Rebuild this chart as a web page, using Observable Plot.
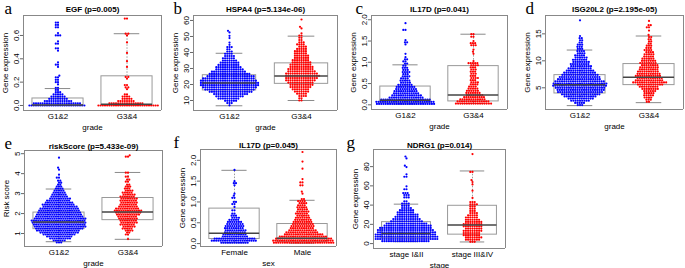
<!DOCTYPE html>
<html><head><meta charset="utf-8">
<script src="https://cdn.jsdelivr.net/npm/d3@7"></script>
<script src="https://cdn.jsdelivr.net/npm/@observablehq/plot@0.6"></script>
<style>
body{margin:0;background:#fff;}
#fig{position:relative;width:685px;height:268px;overflow:hidden;background:#fff;}
#fig svg{position:absolute;overflow:visible;}
</style></head><body><div id="fig"></div>
<script>
// ---- categories ----
const gradeGroups = ["G1&2", "G3&4"];
const sexGroups = ["Female", "Male"];
const stageGroups = ["stage I&II", "stage III&IV"];

const egfLow = [[0,26],[0.019,22],[0.038,13],[0.057,9],[0.076,7],[0.095,5],[0.114,3],[0.133,2],[0.152,2],[0.18,1],[0.2,2],[0.22,2],[0.24,2],[0.255,1],[0.33,1],[0.35,2],[0.37,1],[0.47,1],[0.49,2],[0.53,2],[0.55,1],[0.6,3],[0.62,1],[0.67,2],[0.69,2],[0.71,2]];
const egfHigh = [[0,28],[0.019,16],[0.038,8],[0.057,5],[0.076,4],[0.095,2],[0.14,1],[0.155,2],[0.175,2],[0.23,1],[0.245,2],[0.33,1],[0.38,1],[0.45,1],[0.54,1],[0.6,1],[0.615,2],[0.745,2]];
const hspa4Low = [[7.0,1],[8.4,3],[9.8,6],[11.2,10],[12.6,13],[14.0,16],[15.4,20],[16.8,23],[18.2,25],[19.6,27],[21.0,27],[22.4,26],[23.8,24],[25.2,22],[26.6,19],[28.0,16],[29.4,13],[30.8,12],[32.2,10],[33.6,9],[35.0,7],[36.4,6],[37.8,5],[39.2,4],[40.6,3],[42.0,2],[43.4,3],[44.8,1],[46.2,1],[49.0,1],[50.4,1],[52.5,1],[53.5,1]];
const hspa4High = [[10.0,2],[11.4,2],[12.8,4],[14.2,5],[15.6,7],[17.0,8],[18.4,10],[19.8,11],[21.2,12],[22.6,14],[24.0,15],[25.4,16],[26.8,15],[28.2,13],[29.6,12],[31.0,11],[32.4,10],[33.8,9],[35.2,8],[36.6,7],[38.0,7],[39.4,6],[40.8,6],[42.2,5],[43.6,4],[45.0,4],[46.4,3],[47.8,2],[49.2,2],[50.6,2],[52.0,1],[55.0,1],[56.0,1],[60.6,1]];
const il17dGradeLow = [[0.02,27],[0.07,27],[0.12,23],[0.17,16],[0.22,14],[0.27,12],[0.32,11],[0.37,10],[0.42,9],[0.47,7],[0.52,5],[0.57,5],[0.62,4],[0.67,4],[0.72,3],[0.77,4],[0.82,3],[0.87,3],[0.92,2],[0.97,2],[1.02,2],[1.07,2],[1.12,1],[1.2,1],[1.42,1],[1.47,2],[1.52,1],[1.76,2],[1.92,1]];
const il17dGradeHigh = [[0.03,17],[0.08,15],[0.13,12],[0.18,10],[0.23,8],[0.28,7],[0.33,6],[0.38,5],[0.43,4],[0.48,4],[0.53,4],[0.58,3],[0.63,4],[0.68,3],[0.73,3],[0.78,3],[0.83,3],[0.88,3],[0.93,4],[0.98,5],[1.03,1],[1.2,1],[1.25,1],[1.3,1],[1.4,3],[1.45,3],[1.5,1],[1.6,2],[1.66,2]];
const isgLow = [[1.8,3],[2.2,5],[2.6,9],[3.0,12],[3.4,15],[3.8,18],[4.2,21],[4.6,22],[5.0,23],[5.4,25],[5.8,25],[6.2,23],[6.6,20],[7.0,19],[7.4,17],[7.8,15],[8.2,13],[8.6,11],[9.0,10],[9.4,9],[9.8,8],[10.2,7],[10.6,6],[11.0,5],[11.4,4],[11.8,4],[12.2,3],[12.6,3],[13.0,3],[13.4,2],[13.8,2],[14.2,2],[14.6,1],[17.5,1]];
const isgHigh = [[2.4,2],[2.8,3],[3.2,4],[3.6,5],[4.0,5],[4.4,6],[4.8,8],[5.2,9],[5.6,12],[6.0,16],[6.4,13],[6.8,12],[7.2,12],[7.6,11],[8.0,10],[8.4,9],[8.8,9],[9.2,8],[9.6,8],[10.0,7],[10.4,6],[10.8,5],[11.2,5],[11.6,4],[12.0,4],[12.4,3],[12.8,3],[13.2,2],[13.6,2],[14.0,2],[14.4,2],[14.8,1],[15.6,1],[16.2,2],[16.6,2],[17.4,1]];
const riskLow = [[0.55,3],[0.65,6],[0.75,10],[0.85,12],[0.95,15],[1.05,18],[1.15,20],[1.25,22],[1.35,24],[1.45,24],[1.55,25],[1.65,25],[1.75,24],[1.85,22],[1.95,21],[2.05,20],[2.15,19],[2.25,18],[2.35,16],[2.45,15],[2.55,13],[2.65,11],[2.75,10],[2.85,8],[2.95,7],[3.05,6],[3.15,5],[3.25,4],[3.35,3],[3.45,2],[3.55,2],[3.65,2],[3.8,2],[3.95,1],[4.2,1],[4.3,1],[4.8,1]];
const riskHigh = [[0.72,1],[0.95,2],[1.05,2],[1.15,4],[1.25,5],[1.35,6],[1.45,7],[1.55,8],[1.65,8],[1.75,9],[1.85,9],[1.95,11],[2.05,12],[2.15,13],[2.25,11],[2.35,9],[2.45,8],[2.55,8],[2.65,8],[2.75,8],[2.85,7],[2.95,6],[3.05,5],[3.15,4],[3.25,3],[3.35,3],[3.45,2],[3.6,2],[3.7,2],[3.85,2],[4.05,2],[4.85,2],[4.92,1]];
const il17dFemale = [[0.02,13],[0.07,21],[0.12,19],[0.17,12],[0.22,11],[0.27,10],[0.32,10],[0.37,9],[0.42,9],[0.47,8],[0.52,7],[0.57,5],[0.62,4],[0.67,3],[0.72,2],[0.8,2],[0.88,1],[0.95,2],[1.0,2],[1.1,2],[1.15,1],[1.2,1],[1.4,1],[1.45,2],[1.5,1],[1.77,1]];
const il17dMale = [[0.02,28],[0.07,28],[0.12,26],[0.17,22],[0.22,18],[0.27,15],[0.32,13],[0.37,11],[0.42,11],[0.47,10],[0.52,9],[0.57,8],[0.62,7],[0.67,6],[0.72,6],[0.77,6],[0.82,5],[0.87,5],[0.92,4],[0.97,4],[1.02,4],[1.07,2],[1.2,1],[1.25,1],[1.4,2],[1.47,2],[1.55,1],[1.8,1],[1.97,1],[2.2,1]];
const ndrg1Early = [[2.5,22],[4.8,29],[7.1,29],[9.4,28],[11.7,27],[14.0,26],[16.3,24],[18.6,22],[20.9,19],[23.2,15],[25.5,13],[27.8,11],[30.1,10],[32.4,8],[34.7,7],[37.0,5],[39.3,4],[41.6,4],[44.0,2],[48.0,3],[50.5,3],[52.5,3],[56.5,2],[59.5,1],[69.5,2],[72.0,1],[79.5,1],[81.0,1],[88.5,1],[90.5,1]];
const ndrg1Late = [[1.8,3],[4.1,7],[6.4,8],[8.7,8],[11.0,8],[13.3,9],[15.6,8],[17.9,9],[20.2,9],[22.5,8],[24.8,7],[27.1,6],[29.4,5],[31.7,4],[34.0,3],[36.3,3],[38.6,3],[40.9,4],[43.2,3],[47.5,1],[55.0,1],[61.5,1],[64.0,1],[66.0,1],[74.5,2],[93.0,1]];

// ---- box statistics [lower whisker, Q1, median, Q3, upper whisker] ----
const egfBox = [[0, 0, 0.005, 0.06, 0.145], [0, 0, 0.01, 0.25, 0.615]];
const hspa4Box = [[6.7, 16.3, 21.0, 25.8, 39.5], [10.0, 20.4, 25.3, 33.2, 50.2]];
const il17dGradeBox = [[0.02, 0.04, 0.11, 0.43, 0.94], [0.03, 0.08, 0.23, 0.91, 1.66]];
const isgBox = [[1.7, 3.95, 5.55, 7.35, 12.0], [2.25, 5.5, 6.95, 9.4, 14.6]];
const riskBox = [[0.59, 1.22, 1.58, 2.05, 3.23], [0.71, 1.67, 2.08, 2.78, 4.06]];
const il17dSexBox = [[0.02, 0.11, 0.25, 0.84, 1.76], [0.01, 0.04, 0.13, 0.47, 1.04]];
const ndrg1Box = [[2.0, 5.5, 10.5, 22.3, 41.0], [1.7, 9.3, 19.3, 39.3, 75.5]];

// ---- axis limits and tick labels ----
const egfLim = [-0.043, 0.771], egfTicks = [0, 0.2, 0.4, 0.6];
const hspa4Lim = [3.75, 63.1], hspa4Ticks = [10, 20, 30, 40, 50, 60];
const il17dGradeLim = [-0.11, 2.10], il17dGradeTicks = [0, 0.5, 1, 1.5, 2];
const isgLim = [0.98, 18.4], isgTicks = [5, 10, 15];
const riskLim = [0.35, 5.16], riskTicks = [1, 2, 3, 4, 5];
const il17dSexLim = [-0.07, 2.26], il17dSexTicks = [0, 0.5, 1, 1.5, 2];
const ndrg1Lim = [-5.1, 97.8], ndrg1Ticks = [0, 20, 40, 60, 80];

const panels = [
  {letter:"a", title:"EGF (p=0.005)", groups:gradeGroups, xLabel:"grade", yLabel:"Gene expression", data:[egfLow, egfHigh], box:egfBox, lim:egfLim, ticks:egfTicks, fmt:".1f", svg:[0,0,171,134], frame:[22,161,15,110], ldx:-19},
  {letter:"b", title:"HSPA4 (p=5.134e-06)", groups:gradeGroups, xLabel:"grade", yLabel:"Gene expression", data:[hspa4Low, hspa4High], box:hspa4Box, lim:hspa4Lim, ticks:hspa4Ticks, fmt:"d", svg:[171,0,171,134], frame:[192,337,15,110], ldx:-20},
  {letter:"c", title:"IL17D (p=0.041)", groups:gradeGroups, xLabel:"grade", yLabel:"Gene expression", data:[il17dGradeLow, il17dGradeHigh], box:il17dGradeBox, lim:il17dGradeLim, ticks:il17dGradeTicks, fmt:".1f", svg:[342,0,171,134], frame:[371,507,15,109], ldx:-16},
  {letter:"d", title:"ISG20L2 (p=2.195e-05)", groups:gradeGroups, xLabel:"grade", yLabel:"Gene expression", data:[isgLow, isgHigh], box:isgBox, lim:isgLim, ticks:isgTicks, fmt:"d", svg:[513,0,172,134], frame:[545,683,15,109], ldx:-20},
  {letter:"e", title:"riskScore (p=5.433e-09)", groups:gradeGroups, xLabel:"grade", yLabel:"Risk score", data:[riskLow, riskHigh], box:riskBox, lim:riskLim, ticks:riskTicks, fmt:"d", svg:[0,134,171,134], frame:[23,162,150,246], ldx:-20},
  {letter:"f", title:"IL17D (p=0.045)", groups:sexGroups, xLabel:"sex", yLabel:"Gene expression", data:[il17dFemale, il17dMale], box:il17dSexBox, lim:il17dSexLim, ticks:il17dSexTicks, fmt:".1f", svg:[171,134,171,134], frame:[200,336,149,246], ldx:-27},
  {letter:"g", title:"NDRG1 (p=0.014)", groups:stageGroups, xLabel:"stage", yLabel:"Gene expression", data:[ndrg1Early, ndrg1Late], box:ndrg1Box, lim:ndrg1Lim, ticks:ndrg1Ticks, fmt:"d", svg:[342,134,171,134], frame:[372,505,149,248], ldx:-27}
];

const fig = document.getElementById("fig");
const FONT = "'Liberation Sans', Arial, sans-serif";
const COLORS = ["#0000ff", "#ff0000"];

for (const p of panels) {
  const [sx, sy, sw, sh] = p.svg;
  const [fl, fr, ft, fb] = p.frame;
  const groupPts = p.groups.map((g, i) => p.data[i].flatMap(([v, n]) => d3.range(n).map(() => ({g, v}))));
  const boxes = p.groups.map((g, i) => { const [lo, q1, med, q3, hi] = p.box[i]; return {g, lo, q1, med, q3, hi}; });
  const half = 0.54; // half of one group's slot, in box-width units
  const edges = [{g: p.groups[0], x: -half}, {g: p.groups[1], x: half}];
  const top = ft < 50;
  const chart = Plot.plot({
    width: sw, height: sh,
    marginLeft: fl - sx, marginRight: sx + sw - fr, marginTop: ft - sy, marginBottom: sy + sh - fb,
    style: {fontFamily: FONT, fontSize: "8px", background: "transparent", color: "#000"},
    fx: {domain: p.groups, padding: 0, axis: "bottom", tickSize: 0, tickPadding: 3, label: p.xLabel, labelAnchor: "center", labelOffset: 19},
    x: {domain: [-half, half], axis: null},
    y: {domain: p.lim, axis: null},
    marks: [
      Plot.ruleX(boxes, {fx: "g", x: () => 0, y1: "q3", y2: "hi", stroke: "#9a9a9a", strokeDasharray: "1.5,1.5"}),
      Plot.ruleX(boxes, {fx: "g", x: () => 0, y1: "lo", y2: "q1", stroke: "#9a9a9a", strokeDasharray: "1.5,1.5"}),
      Plot.ruleY(boxes, {fx: "g", y: "hi", x1: () => -0.2, x2: () => 0.2, stroke: "#8a8a8a"}),
      Plot.ruleY(boxes, {fx: "g", y: "lo", x1: () => -0.2, x2: () => 0.2, stroke: "#8a8a8a"}),
      Plot.rect(boxes, {fx: "g", x1: () => -0.4, x2: () => 0.4, y1: "q1", y2: "q3", fill: "none", stroke: "#999"}),
      ...groupPts.map((pts, i) => Plot.dot(pts, Plot.dodgeX({anchor: "middle", padding: 0}, {fx: "g", y: "v", r: 1.1, fill: COLORS[i], stroke: null}))),
      Plot.ruleY(boxes, {fx: "g", y: "med", x1: () => -0.4, x2: () => 0.4, stroke: "#444", strokeWidth: 1.5}),
      Plot.ruleY(p.lim, {stroke: "#888"}),
      Plot.ruleX(edges, {fx: "g", x: "x", stroke: "#888"}),
      Plot.axisY({ticks: p.ticks, tickFormat: p.fmt, tickSize: 3, tickPadding: 2, tickRotate: -90, stroke: "#666",
        label: p.yLabel, labelAnchor: "center", labelOffset: 21, labelArrow: "none"}),
      Plot.text([{g: p.groups[0]}], {fx: "g", frameAnchor: "top-right", textAnchor: "middle", text: () => p.title,
        dy: top ? -9 : -7, fontWeight: "bold", fontSize: 8}),
      Plot.text([{g: p.groups[0]}], {fx: "g", frameAnchor: "top-left", textAnchor: "start", lineAnchor: "bottom", text: () => p.letter,
        dx: p.ldx, dy: -2, fontFamily: "'Liberation Serif', 'DejaVu Serif', serif", fontSize: 17})
    ]
  });
  chart.style.left = sx + "px";
  chart.style.top = sy + "px";
  fig.appendChild(chart);
}
</script>
</body></html>
